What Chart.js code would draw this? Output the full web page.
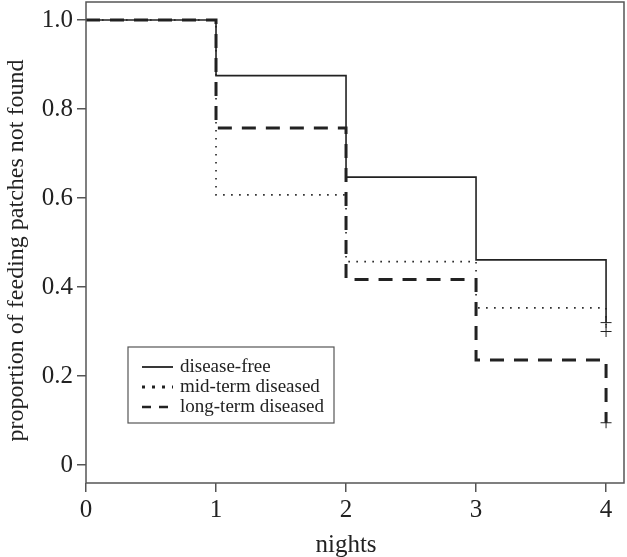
<!DOCTYPE html>
<html>
<head>
<meta charset="utf-8">
<script src="https://cdn.jsdelivr.net/npm/chart.js@4"></script>
<style>
  html, body { margin: 0; padding: 0; background: #fff; }
  #wrap { width: 627px; height: 557px; }
</style>
</head>
<body>
<div id="wrap"><canvas id="kmchart" width="627" height="557"></canvas></div>
<script>
// data
var nights = [0, 1, 2, 3, 4];
var xTicks = [0, 1, 2, 3, 4];
var yTicks = [0, 0.2, 0.4, 0.6, 0.8, 1.0];
var groupNames = ["disease-free", "mid-term diseased", "long-term diseased"];
var diseaseFree = [1.0, 0.875, 0.647, 0.461, 0.32];
var midTerm = [1.0, 0.607, 0.457, 0.353, 0.30];
var longTerm = [1.0, 0.757, 0.417, 0.236, 0.095];
var xTitle = "nights";
var yTitle = "proportion of feeding patches not found";

var serif = "'Liberation Serif', 'DejaVu Serif', serif";
var ink = "#222";
var axisGrey = "#555";

function toPoints(ys) {
  return nights.map(function (x, i) { return { x: x, y: ys[i] }; });
}
// cross only on the last (censored) point
function censorRadius(ys) {
  return ys.map(function (v, i) { return i === ys.length - 1 ? 5.5 : 0; });
}

// box round the plot area + axis titles (R places them on the data range, not the box)
var boxPlugin = {
  id: "box",
  afterDraw: function (chart) {
    var a = chart.chartArea, ctx = chart.ctx;
    var xs = chart.scales.x, ys = chart.scales.y;
    ctx.save();
    ctx.strokeStyle = axisGrey;
    ctx.lineWidth = 1.5;
    ctx.strokeRect(a.left, a.top, a.right - a.left, a.bottom - a.top);

    ctx.fillStyle = ink;
    ctx.textAlign = "center";
    ctx.textBaseline = "middle";
    ctx.font = "25px " + serif;
    ctx.fillText(xTitle, xs.getPixelForValue(2), 545);

    ctx.translate(17, ys.getPixelForValue(0.5) + 8);
    ctx.rotate(-Math.PI / 2);
    ctx.font = "24px " + serif;
    ctx.fillText(yTitle, 0, 0);
    ctx.restore();
  }
};

// R style legend box inside the plot
var legendBox = {
  id: "legendBox",
  afterDatasetsDraw: function (chart) {
    var ctx = chart.ctx;
    var x0 = 128, y0 = 347, w = 206, h = 76;
    ctx.save();
    ctx.fillStyle = "#fff";
    ctx.fillRect(x0, y0, w, h);
    ctx.strokeStyle = axisGrey;
    ctx.lineWidth = 1.2;
    ctx.strokeRect(x0, y0, w, h);
    ctx.font = "19px " + serif;
    ctx.textBaseline = "middle";
    chart.data.datasets.forEach(function (ds, i) {
      var y = y0 + 20 + i * 20;
      ctx.strokeStyle = ink;
      ctx.lineWidth = ds.legendWidth;
      ctx.setLineDash(ds.legendDash);
      ctx.beginPath();
      ctx.moveTo(142, y);
      ctx.lineTo(173, y);
      ctx.stroke();
      ctx.setLineDash([]);
      ctx.fillStyle = ink;
      ctx.fillText(ds.label, 180, y);
    });
    ctx.restore();
  }
};

var ctx = document.getElementById("kmchart").getContext("2d");
var myChart = new Chart(ctx, {
  type: "line",
  data: {
    datasets: [
      {
        label: groupNames[0],
        data: toPoints(diseaseFree),
        stepped: "before",
        borderColor: ink,
        borderWidth: 1.6,
        borderDash: [],
        legendDash: [],
        legendWidth: 1.8,
        pointStyle: "cross",
        pointRadius: censorRadius(diseaseFree),
        pointBorderWidth: 1,
        pointBorderColor: ink,
        fill: false
      },
      {
        label: groupNames[1],
        data: toPoints(midTerm),
        stepped: "before",
        borderColor: ink,
        borderWidth: 1.6,
        borderDash: [1.6, 6.4],
        legendDash: [3, 7],
        legendWidth: 3,
        pointStyle: "cross",
        pointRadius: censorRadius(midTerm),
        pointBorderWidth: 1,
        pointBorderColor: ink,
        fill: false
      },
      {
        label: groupNames[2],
        data: toPoints(longTerm),
        stepped: "before",
        borderColor: ink,
        borderWidth: 3,
        borderDash: [14, 10],
        legendDash: [9, 8],
        legendWidth: 2.5,
        pointStyle: "cross",
        pointRadius: censorRadius(longTerm),
        pointBorderWidth: 1,
        pointBorderColor: ink,
        fill: false
      }
    ]
  },
  options: {
    responsive: false,
    animation: false,
    layout: { autoPadding: false, padding: { top: 2, right: 3, left: 0, bottom: 0 } },
    plugins: {
      legend: { display: false },
      tooltip: { enabled: false }
    },
    scales: {
      x: {
        type: "linear",
        min: 0,
        max: 4.138,
        afterFit: function (scale) {
          scale.height = 74;
          scale.paddingLeft = 0;
          scale.paddingRight = 0;
        },
        afterBuildTicks: function (scale) {
          scale.ticks = xTicks.map(function (v) { return { value: v }; });
        },
        border: { display: false },
        grid: { drawOnChartArea: false, drawTicks: true, tickLength: 9, color: axisGrey, lineWidth: 1.5 },
        ticks: {
          padding: 3,
          color: ink,
          font: { family: serif, size: 25 },
          callback: function (v) { return String(v); }
        },
        title: { display: false }
      },
      y: {
        type: "linear",
        min: -0.0404,
        max: 1.0404,
        afterFit: function (scale) {
          scale.width = 86;
          scale.paddingTop = 0;
          scale.paddingBottom = 0;
        },
        afterBuildTicks: function (scale) {
          scale.ticks = yTicks.map(function (v) { return { value: v }; });
        },
        border: { display: false },
        grid: { drawOnChartArea: false, drawTicks: true, tickLength: 9, color: axisGrey, lineWidth: 1.5 },
        ticks: {
          padding: 4,
          color: ink,
          font: { family: serif, size: 25 },
          callback: function (v) { return v === 0 ? "0" : v.toFixed(1); }
        },
        title: { display: false }
      }
    }
  },
  plugins: [boxPlugin, legendBox]
});
</script>
</body>
</html>
